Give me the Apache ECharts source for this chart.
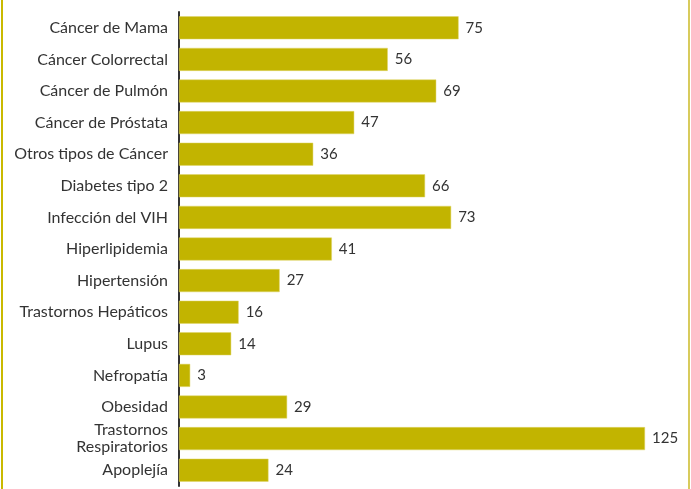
<!DOCTYPE html>
<html>
<head>
<meta charset="utf-8">
<script src="https://cdn.jsdelivr.net/npm/echarts@6/dist/echarts.min.js"></script>
<style>
html,body{margin:0;padding:0;background:#fff;}
#wrap{position:absolute;left:0;top:0;width:691px;height:489px;}
#bl{position:absolute;left:1px;top:0;width:2px;height:489px;background:#c9b900;}
#br{position:absolute;left:688px;top:0;width:2px;height:489px;background:#d8cb5c;}
#chart{position:absolute;left:0;top:0;width:691px;height:489px;}
</style>
</head>
<body>
<div id="wrap">
<div id="chart"></div>
<div id="bl"></div>
<div id="br"></div>
</div>
<script>
var categories = [
  'Cáncer de Mama',
  'Cáncer Colorrectal',
  'Cáncer de Pulmón',
  'Cáncer de Próstata',
  'Otros tipos de Cáncer',
  'Diabetes tipo 2',
  'Infección del VIH',
  'Hiperlipidemia',
  'Hipertensión',
  'Trastornos Hepáticos',
  'Lupus',
  'Nefropatía',
  'Obesidad',
  'Trastornos\nRespiratorios',
  'Apoplejía'
];
var values = [75, 56, 69, 47, 36, 66, 73, 41, 27, 16, 14, 3, 29, 125, 24];

var chart = echarts.init(document.getElementById('chart'));
chart.setOption({
  animation: false,
  grid: {left: 179, right: 46, top: 12, bottom: 3, containLabel: false},
  xAxis: {
    type: 'value', min: 0, max: 125, show: false
  },
  yAxis: {
    type: 'category',
    data: categories,
    inverse: true,
    axisLine: {show: true, lineStyle: {color: '#333', width: 2}},
    axisTick: {show: false},
    axisLabel: {
      color: '#333', fontFamily: 'Lato', fontSize: 16, margin: 11, lineHeight: 17
    }
  },
  series: [{
    type: 'bar',
    data: values,
    barWidth: 23,
    itemStyle: {color: '#c2b400', borderColor: '#e0d66a', borderWidth: 0.5},
    label: {
      show: true, position: 'right', distance: 7,
      color: '#333', fontFamily: 'Lato', fontSize: 15
    }
  }]
});
</script>
</body>
</html>
